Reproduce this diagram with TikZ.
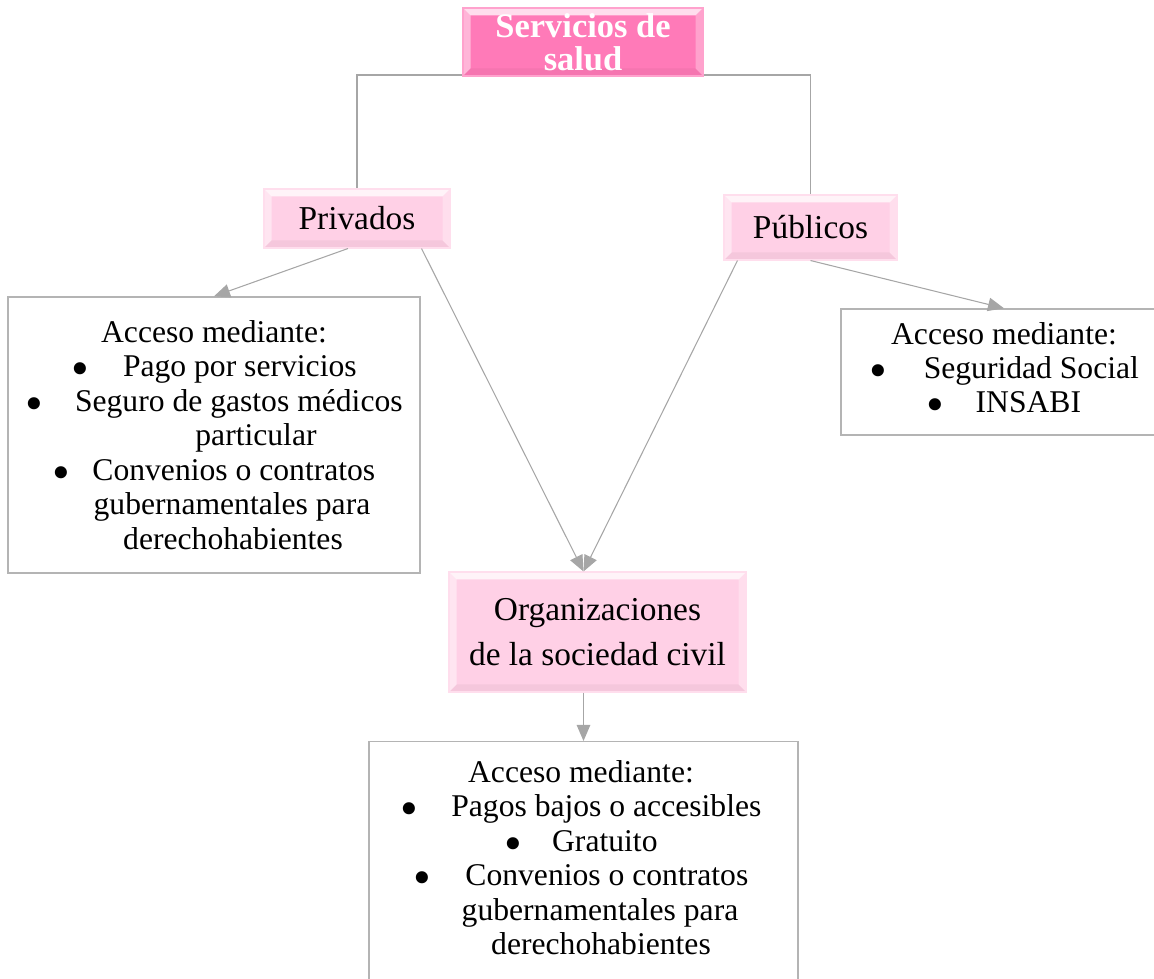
\documentclass[tikz,border=0pt]{standalone}
\usepackage{fontspec}
\setmainfont{Liberation Serif}
\usetikzlibrary{arrows.meta,backgrounds}

\definecolor{rosafuerte}{RGB}{255,122,184}
\definecolor{rosaclaro}{RGB}{255,208,230}
\definecolor{gristallo}{RGB}{166,166,166}
\definecolor{grisborde}{RGB}{180,180,180}

\newcommand\cuerpo{\fontsize{18}{19.6}\selectfont}
\newcommand\rotulo{\fontsize{19}{25.6}\selectfont}
\newcommand\punto{\raisebox{-0.28em}{\scalebox{1.6}{\textbullet}}}

\tikzset{
  caja/.style={draw=grisborde, line width=0.8pt, fill=white, align=center, font=\cuerpo, inner sep=0pt},
  bisel/.style={fill=#1, draw=#1!70!white, line width=0.6pt, align=center, inner sep=0pt,
    path picture={
      \fill[white,opacity=0.75] (path picture bounding box.north west) -- (path picture bounding box.north east)
        -- ([shift={(-0.15,-0.15)}]path picture bounding box.north east) -- ([shift={(0.15,-0.15)}]path picture bounding box.north west) -- cycle;
      \fill[white,opacity=0.45] (path picture bounding box.north west) -- ([shift={(0.15,-0.15)}]path picture bounding box.north west)
        -- ([shift={(0.15,0.15)}]path picture bounding box.south west) -- (path picture bounding box.south west) -- cycle;
      \fill[white,opacity=0.3] (path picture bounding box.north east) -- ([shift={(-0.15,-0.15)}]path picture bounding box.north east)
        -- ([shift={(-0.15,0.15)}]path picture bounding box.south east) -- (path picture bounding box.south east) -- cycle;
      \fill[black,opacity=0.04] (path picture bounding box.south west) -- ([shift={(0.15,0.15)}]path picture bounding box.south west)
        -- ([shift={(-0.15,0.15)}]path picture bounding box.south east) -- (path picture bounding box.south east) -- cycle;
    }},
  tronco/.style={draw=gristallo, line width=1.1pt},
  flecha/.style={draw=gristallo, line width=0.6pt, -{Triangle[length=0.32cm,width=0.27cm]}, gristallo},
}

\begin{document}
\begin{tikzpicture}
  \useasboundingbox (0,0) rectangle (23.08,-19.58);
  \clip (0,0) rectangle (23.08,-19.58);

  % cajas de color
  \node[bisel=rosafuerte, minimum width=4.8cm, minimum height=1.36cm, text=white,
        font=\fontsize{19.6}{19}\selectfont\bfseries] (titulo) at (11.66,-0.84) {Servicios de\\salud};
  \node[bisel=rosaclaro, minimum width=3.72cm, minimum height=1.18cm, font=\rotulo] (priv) at (7.14,-4.37) {Privados};
  \node[bisel=rosaclaro, minimum width=3.46cm, minimum height=1.3cm, font=\rotulo] (pub) at (16.21,-4.55) {Públicos};
  \node[bisel=rosaclaro, minimum width=5.94cm, minimum height=2.4cm, font=\rotulo] (org) at (11.95,-12.64)
    {Organizaciones\\de la sociedad civil};

  % cajas de acceso
  \node[caja, minimum width=8.24cm, minimum height=5.52cm] (izq) at (4.28,-8.70)
    {Acceso mediante:\\
     \punto\hspace{0.68cm}Pago por servicios\\
     \punto\hspace{0.64cm}Seguro de gastos médicos\\
     \hspace*{1.68cm}particular\\
     \punto\hspace{0.44cm}Convenios o contratos\\
     \hspace*{0.72cm}gubernamentales para\\
     \hspace*{0.76cm}derechohabientes};
  \node[caja, minimum width=6.52cm, minimum height=2.52cm] (der) at (20.08,-7.44)
    {Acceso mediante:\\
     \punto\hspace{0.74cm}Seguridad Social\\
     \punto\hspace{0.62cm}INSABI};
  \node[caja, minimum width=8.58cm, minimum height=5.4cm, anchor=north] (abajo) at (11.67,-14.82) {};
  \node[align=center, font=\cuerpo, inner sep=0pt, anchor=north] (abajotxt) at (11.62,-15.2)
    {Acceso mediante:\\
     \punto\hspace{0.66cm}Pagos bajos o accesibles\\
     \punto\hspace{0.6cm}Gratuito\\
     \punto\hspace{0.68cm}Convenios o contratos\\
     \hspace*{0.76cm}gubernamentales para\\
     \hspace*{0.8cm}derechohabientes};

  \begin{scope}[on background layer]
    \draw[tronco] (priv.north) |- ([yshift=0.03cm]titulo.south) -| (pub.north);
  \end{scope}

  \draw[flecha] ([xshift=-0.18cm]priv.south) -- (izq.north);
  \draw[flecha] ([xshift=-0.58cm]priv.south east) -- (org.north -| abajo.north);
  \draw[flecha] ([xshift=0.28cm]pub.south west) -- (org.north -| abajo.north);
  \draw[flecha] (pub.south) -- (der.north);
  \draw[flecha] (org.south -| abajo.north) -- (abajo.north);
\end{tikzpicture}
\end{document}
